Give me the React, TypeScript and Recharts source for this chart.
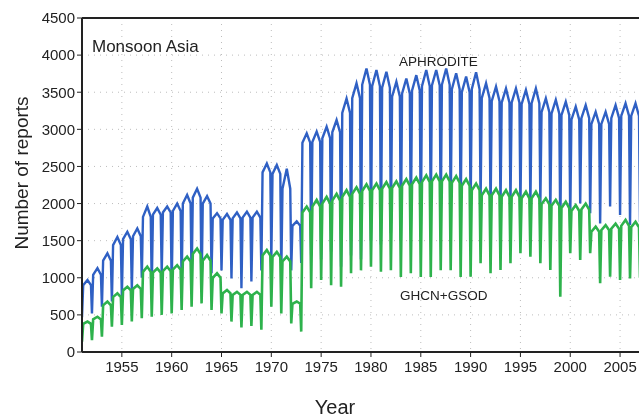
import React from "react";
import {
  LineChart,
  Line,
  XAxis,
  YAxis,
  CartesianGrid,
  ReferenceLine,
} from "recharts";

// one entry per year, 1951..2007
const startYear = 1951;

// APHRODITE (blue)
const bluePeak = [
  970, 1130, 1330, 1550, 1620, 1665, 1960, 1940, 1960, 2000,
  2115, 2200, 2100, 1870, 1860, 1880, 1890, 1890, 2540, 2520,
  2470, 1760, 2945, 2970, 3035, 3125, 3415, 3620, 3820, 3800,
  3775, 3640, 3685, 3730, 3800, 3800, 3820, 3755, 3710, 3770,
  3620, 3575, 3550, 3550, 3530, 3550, 3415, 3395, 3370, 3305,
  3325, 3235, 3235, 3325, 3350, 3350, 3300,
];
const blueShoulder = [
  900, 1040, 1230, 1440, 1520, 1560, 1820, 1850, 1880, 1900,
  2000, 2080, 2000, 1800, 1780, 1800, 1810, 1810, 2420, 2400,
  2200, 1700, 2820, 2830, 2880, 2960, 3220, 3420, 3600, 3580,
  3560, 3440, 3480, 3520, 3580, 3590, 3600, 3540, 3500, 3540,
  3420, 3380, 3360, 3360, 3340, 3350, 3230, 3210, 3190, 3130,
  3150, 3070, 3070, 3150, 3180, 3180, 3150,
];
const blueDip = [
  470, 520, 610, 680, 745, 835, 1000, 880, 1060, 880,
  925, 970, 835, 1060, 1100, 990, 860, 950, 1100, 1240,
  1060, 1100, 1200, 1300, 1250, 1350, 1150, 1300, 1250, 1500,
  1450, 1600, 1500, 1650, 1550, 1800, 1750, 1850, 1800, 1900,
  2000, 1870, 1960, 2000, 1960, 1980, 2000, 1870, 1640, 1820,
  2000, 1870, 1730, 1960, 1845, 1710, 1750,
];

// GHCN+GSOD (green)
const greenPeak = [
  410, 475, 680, 790, 880, 900, 1150, 1125, 1150, 1170,
  1285, 1395, 1305, 1060, 835, 810, 810, 810, 1375, 1350,
  1285, 680, 1960, 2050, 2090, 2130, 2180, 2220, 2260, 2270,
  2290, 2300, 2330, 2350, 2380, 2390, 2390, 2370, 2330, 2270,
  2200, 2200, 2180, 2180, 2160, 2160, 2070, 2050, 2025, 1980,
  2000, 1690, 1710, 1730, 1780, 1755, 1740,
];
const greenShoulder = [
  380, 440, 630, 740, 830, 850, 1080, 1070, 1090, 1110,
  1220, 1320, 1230, 1000, 790, 770, 770, 770, 1300, 1280,
  1220, 650, 1880, 1960, 2000, 2040, 2090, 2130, 2170, 2180,
  2200, 2210, 2240, 2260, 2290, 2300, 2300, 2280, 2240, 2180,
  2110, 2110, 2090, 2090, 2070, 2070, 1990, 1970, 1940, 1900,
  1920, 1620, 1640, 1660, 1700, 1680, 1670,
];
const greenDip = [
  140, 160, 205, 340, 365, 410, 455, 475, 500, 520,
  565, 610, 655, 565, 520, 410, 330, 350, 300, 610,
  520, 385, 275, 860, 970, 900, 880, 1060, 1100, 1150,
  1080, 1100, 1010, 1060, 1010, 1010, 1100, 1100, 1010, 1015,
  1195, 1060, 1105, 1195, 1330, 1285, 1195, 1105, 745, 1330,
  1240, 1330, 925, 1015, 970, 990, 1000,
];

const xTicks = [1955, 1960, 1965, 1970, 1975, 1980, 1985, 1990, 1995, 2000, 2005];
const yTicks = [0, 500, 1000, 1500, 2000, 2500, 3000, 3500, 4000, 4500];

// each year: dip at the turn of the year, quick rise, peak, shoulder before next dip
const rows: { t: number; aph: number; ghcn: number }[] = [];
bluePeak.forEach((_, i) => {
  const y = startYear + i;
  rows.push({ t: y, aph: blueDip[i], ghcn: greenDip[i] });
  rows.push({ t: y + 0.12, aph: blueShoulder[i], ghcn: greenShoulder[i] });
  rows.push({ t: y + 0.55, aph: bluePeak[i], ghcn: greenPeak[i] });
  rows.push({ t: y + 0.9, aph: blueShoulder[i], ghcn: greenShoulder[i] });
});

const font = "'Liberation Sans', Arial, Helvetica, sans-serif";
const ink = "#222";

export default function App() {
  return (
    <div
      style={{
        position: "fixed",
        left: 8,
        top: 8,
        width: 631,
        height: 410,
        overflow: "hidden",
        fontFamily: font,
      }}
    >
      {/* the figure is cropped at the window edge, no scrollbars */}
      <style>{"html { overflow: hidden; }"}</style>
      <LineChart
        width={650}
        height={410}
        data={rows}
        margin={{ top: 10, right: 18, bottom: 26, left: 0 }}
      >
        <CartesianGrid stroke="#bdbdbd" strokeDasharray="1 5" />
        <XAxis
          dataKey="t"
          type="number"
          domain={[1951, 2007]}
          ticks={xTicks}
          allowDataOverflow
          height={40}
          tickSize={5}
          tickMargin={4}
          tick={{ fontSize: 15, fill: ink, fontFamily: font }}
          axisLine={{ stroke: ink, strokeWidth: 2 }}
          tickLine={{ stroke: ink }}
        />
        <YAxis
          type="number"
          domain={[0, 4500]}
          ticks={yTicks}
          width={74}
          tickSize={5}
          tickMargin={2}
          tick={{ fontSize: 15, fill: ink, fontFamily: font }}
          axisLine={{ stroke: ink, strokeWidth: 2 }}
          tickLine={{ stroke: ink }}
        />
        <ReferenceLine y={4500} stroke={ink} strokeWidth={2} />
        <Line
          type="linear"
          dataKey="aph"
          stroke="#2f60c4"
          strokeWidth={2.4}
          dot={false}
          isAnimationActive={false}
        />
        <Line
          type="linear"
          dataKey="ghcn"
          stroke="#2eb24c"
          strokeWidth={2.6}
          dot={false}
          isAnimationActive={false}
        />
      </LineChart>

      {/* titles and in-plot labels */}
      <svg
        width={631}
        height={410}
        style={{ position: "absolute", left: 0, top: 0, pointerEvents: "none" }}
      >
        <text x={84} y={43.5} fontSize={17} fill={ink} fontFamily={font}>
          Monsoon Asia
        </text>
        <text x={391} y={58} fontSize={13.5} fill={ink} fontFamily={font}>
          APHRODITE
        </text>
        <text x={392} y={292} fontSize={13.5} fill={ink} fontFamily={font}>
          GHCN+GSOD
        </text>
        <text
          x={20}
          y={165}
          fontSize={19}
          fill={ink}
          fontFamily={font}
          textAnchor="middle"
          transform="rotate(-90 20 165)"
        >
          Number of reports
        </text>
        <text x={327} y={406} fontSize={20} fill={ink} fontFamily={font} textAnchor="middle">
          Year
        </text>
      </svg>
    </div>
  );
}
